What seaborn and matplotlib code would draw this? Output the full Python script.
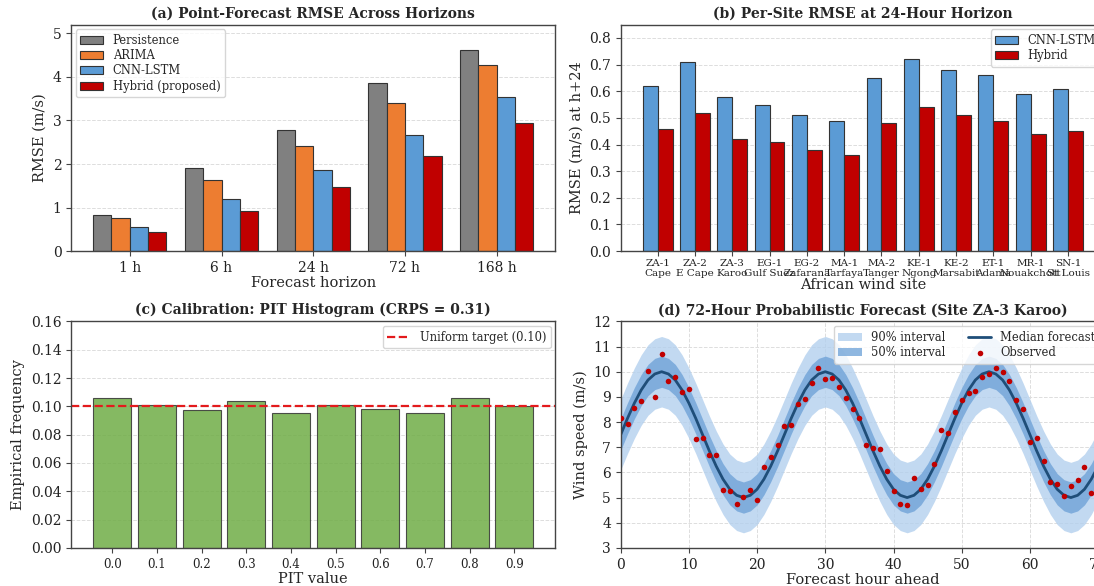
import numpy as np
import pandas as pd
import matplotlib
matplotlib.use('Agg')
import matplotlib.pyplot as plt
from matplotlib.ticker import MultipleLocator
import seaborn as sns

# ---- data ----
horizons = ['1 h', '6 h', '24 h', '72 h', '168 h']
models = ['Persistence', 'ARIMA', 'CNN-LSTM', 'Hybrid (proposed)']
rmse_persistence = [0.84, 1.92, 2.78, 3.85, 4.62]
rmse_arima = [0.77, 1.64, 2.41, 3.40, 4.27]
rmse_cnnlstm = [0.56, 1.20, 1.87, 2.67, 3.54]
rmse_hybrid = [0.45, 0.92, 1.47, 2.18, 2.94]

sites = ['ZA-1\nCape', 'ZA-2\nE Cape', 'ZA-3\nKaroo', 'EG-1\nGulf Suez', 'EG-2\nZafarana',
         'MA-1\nTarfaya', 'MA-2\nTanger', 'KE-1\nNgong', 'KE-2\nMarsabit', 'ET-1\nAdama',
         'MR-1\nNouakchott', 'SN-1\nSt Louis']
site_cnnlstm = [0.62, 0.71, 0.58, 0.55, 0.51, 0.49, 0.65, 0.72, 0.68, 0.66, 0.59, 0.61]
site_hybrid = [0.46, 0.52, 0.42, 0.41, 0.38, 0.36, 0.48, 0.54, 0.51, 0.49, 0.44, 0.45]

pit_bins = ['0.0', '0.1', '0.2', '0.3', '0.4', '0.5', '0.6', '0.7', '0.8', '0.9']
pit_freq = [0.106, 0.1007, 0.0972, 0.104, 0.0951, 0.1012, 0.0981, 0.0951, 0.1059, 0.100]
uniform_target = 0.10

hours = list(range(72))
median_forecast = [7.50, 8.15, 8.75, 9.27, 9.67, 9.91, 10.00, 9.91, 9.67, 9.27, 8.75, 8.15,
                   7.50, 6.85, 6.25, 5.73, 5.33, 5.09, 5.00, 5.09, 5.33, 5.73, 6.25, 6.85,
                   7.50, 8.15, 8.75, 9.27, 9.67, 9.91, 10.00, 9.91, 9.67, 9.27, 8.75, 8.15,
                   7.50, 6.85, 6.25, 5.73, 5.33, 5.09, 5.00, 5.09, 5.33, 5.73, 6.25, 6.85,
                   7.50, 8.15, 8.75, 9.27, 9.67, 9.91, 10.00, 9.91, 9.67, 9.27, 8.75, 8.15,
                   7.50, 6.85, 6.25, 5.73, 5.33, 5.09, 5.00, 5.09, 5.33, 5.73, 6.25, 6.85]
half_width_50 = 0.62
half_width_90 = 1.40
observed = [8.16, 7.91, 8.54, 8.83, 10.01, 9.00, 10.69, 9.63, 9.78, 9.18, 9.32, 7.32,
            7.38, 6.71, 6.71, 5.30, 5.27, 4.73, 5.02, 5.31, 4.90, 6.20, 6.62, 7.07,
            7.84, 7.87, 8.72, 8.90, 9.56, 10.13, 9.73, 9.77, 9.40, 8.94, 8.50, 8.15,
            7.08, 6.95, 6.92, 6.04, 5.27, 4.74, 4.70, 5.77, 5.35, 5.50, 6.34, 7.69,
            7.55, 8.40, 8.87, 9.14, 9.22, 9.78, 9.90, 10.15, 9.99, 9.65, 8.87, 8.50,
            7.21, 7.36, 6.46, 5.61, 5.54, 5.06, 5.44, 5.71, 6.21, 5.19, 5.68, 6.68]

# ---- style ----
sns.set_style('ticks')
plt.rcParams['font.family'] = ['DejaVu Serif']
plt.rcParams['axes.edgecolor'] = '#444444'
plt.rcParams['axes.linewidth'] = 1.0
plt.rcParams['xtick.color'] = '#444444'
plt.rcParams['ytick.color'] = '#444444'
plt.rcParams['xtick.labelcolor'] = '#222222'
plt.rcParams['ytick.labelcolor'] = '#222222'
plt.rcParams['xtick.labelsize'] = 10
plt.rcParams['ytick.labelsize'] = 10
plt.rcParams['axes.labelsize'] = 10.5
plt.rcParams['axes.titlesize'] = 10
plt.rcParams['axes.titleweight'] = 'bold'
plt.rcParams['legend.fontsize'] = 8.3
plt.rcParams['legend.labelspacing'] = 0.2
plt.rcParams['legend.borderaxespad'] = 0.4

grid_kw = dict(color='#dddddd', linestyle='--', linewidth=0.7)

fig, axes = plt.subplots(2, 2, figsize=(10.94, 5.86), dpi=100)
fig.subplots_adjust(left=0.065, right=1.01, top=0.958, bottom=0.065, wspace=0.135, hspace=0.31)

# (a) point forecast RMSE
ax = axes[0, 0]
df_a = pd.DataFrame({
    'Horizon': horizons * 4,
    'Model': [m for m in models for _ in horizons],
    'RMSE': rmse_persistence + rmse_arima + rmse_cnnlstm + rmse_hybrid,
})
pal_a = ['#808080', '#ed7d31', '#5b9bd5', '#c00000']
sns.barplot(data=df_a, x='Horizon', y='RMSE', hue='Model', palette=pal_a, ax=ax,
            edgecolor='#333333', linewidth=0.8, saturation=1, errorbar=None)
ax.set_xlim(-0.64, 4.64)
ax.set_ylim(0, 5.2)
ax.set_xlabel('Forecast horizon', labelpad=1)
ax.set_ylabel('RMSE (m/s)')
ax.set_title('(a) Point-Forecast RMSE Across Horizons', pad=5)
ax.yaxis.grid(True, **grid_kw)
ax.set_axisbelow(True)
sns.move_legend(ax, 'upper left', title=None, frameon=True)

# (b) per-site RMSE
ax = axes[0, 1]
df_b = pd.DataFrame({
    'Site': sites * 2,
    'Model': ['CNN-LSTM'] * len(sites) + ['Hybrid'] * len(sites),
    'RMSE': site_cnnlstm + site_hybrid,
})
sns.barplot(data=df_b, x='Site', y='RMSE', hue='Model', palette=['#5b9bd5', '#c00000'], ax=ax,
            edgecolor='#333333', linewidth=0.8, saturation=1, errorbar=None)
ax.set_xlim(-0.99, 11.99)
ax.set_ylim(0, 0.85)
ax.yaxis.set_major_locator(MultipleLocator(0.1))
ax.tick_params(axis='x', labelsize=7.5, pad=2)
ax.set_xlabel('African wind site', labelpad=0)
ax.set_ylabel('RMSE (m/s) at h+24')
ax.set_title('(b) Per-Site RMSE at 24-Hour Horizon', pad=5)
ax.yaxis.grid(True, **grid_kw)
ax.set_axisbelow(True)
sns.move_legend(ax, 'upper right', title=None, frameon=True)

# (c) PIT histogram
ax = axes[1, 0]
df_c = pd.DataFrame({'PIT': pit_bins, 'Freq': pit_freq})
sns.barplot(data=df_c, x='PIT', y='Freq', color='#70ad47', alpha=0.85, width=0.85, ax=ax,
            edgecolor='#333333', linewidth=0.8, saturation=1, errorbar=None)
ax.axhline(uniform_target, color='#e31a1c', linestyle='--', linewidth=1.6,
           label='Uniform target (0.10)')
ax.set_xlim(-0.92, 9.92)
ax.set_ylim(0, 0.16)
ax.tick_params(axis='x', labelsize=8.5)
ax.set_xlabel('PIT value', labelpad=1)
ax.set_ylabel('Empirical frequency')
ax.set_title('(c) Calibration: PIT Histogram (CRPS = 0.31)', pad=5)
ax.yaxis.grid(True, **grid_kw)
ax.set_axisbelow(True)
ax.legend(loc='upper right', frameon=True)

# (d) probabilistic forecast
ax = axes[1, 1]
med = np.array(median_forecast)
ax.fill_between(hours, med - half_width_90, med + half_width_90, color='#b3d0ee', alpha=0.8,
                linewidth=0, label='90% interval')
ax.fill_between(hours, med - half_width_50, med + half_width_50, color='#6a9fd6', alpha=0.75,
                linewidth=0, label='50% interval')
sns.lineplot(x=hours, y=median_forecast, color='#1f4e79', linewidth=2, ax=ax, label='Median forecast')
sns.scatterplot(x=hours, y=observed, color='#c00000', s=16, linewidth=0, ax=ax, label='Observed', zorder=5)
ax.set_xlim(0, 71)
ax.set_ylim(3, 12)
ax.set_xticks(range(0, 71, 10))
ax.yaxis.set_major_locator(MultipleLocator(1))
ax.set_xlabel('Forecast hour ahead', labelpad=1)
ax.set_ylabel('Wind speed (m/s)')
ax.set_title('(d) 72-Hour Probabilistic Forecast (Site ZA-3 Karoo)', pad=5)
ax.grid(True, **grid_kw)
ax.legend(loc='upper right', ncol=2, frameon=True)

fig.savefig('out.png', dpi=100)
